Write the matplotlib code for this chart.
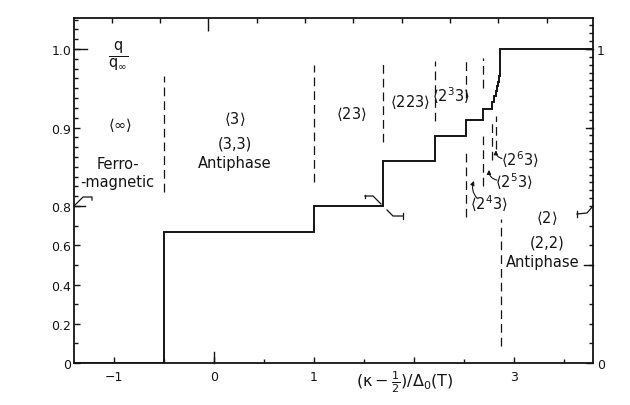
import numpy as np
import matplotlib
matplotlib.use('Agg')
import matplotlib.pyplot as plt
from matplotlib.transforms import IdentityTransform

plt.rcParams['font.family'] = ['DejaVu Sans']
plt.rcParams['mathtext.default'] = 'regular'
INK = '#141414'

# ---- data ----
step_x = [-1.40, -0.50, 1.00, 1.69, 2.21, 2.52, 2.69, 2.78, 2.80, 2.82, 2.832, 2.842, 2.850, 2.858, 3.79]
step_q = [0.000, 0.667, 0.800, 0.857, 0.889, 0.909, 0.923, 0.933, 0.940, 0.947, 0.953, 0.958, 0.965, 1.000, 1.000]

dash_x  = [-0.50, 1.00, 1.69, 2.21, 2.52, 2.69, 2.52, 2.69, 2.78, 2.82, 2.87]
dash_lo = [0.818, 0.831, 0.882, 0.908, 0.937, 0.950, 0.746, 0.826, 0.858, 0.873, 0.089]
dash_hi = [0.966, 0.979, 0.984, 0.985, 0.985, 0.988, 0.873, 0.889, 0.908, 0.915, 0.736]

x_ticks = [-1, 0, 1, 2, 3]
x_ticklabels = ['\u22121', '0', '1', '', '3']
y_ticks = [0, 0.2, 0.4, 0.6, 0.8, 0.9, 1.0]
y_ticklabels = ['0', '0.2', '0.4', '0.6', '0.8', '0.9', '1.0']

# ---- broken (piecewise linear) q scale ----
def fwd(q):
    q = np.asarray(q, float)
    return np.where(q <= 0.8, q / 4.0, q - 0.6)

def inv(y):
    y = np.asarray(y, float)
    return np.where(y <= 0.2, y * 4.0, y + 0.6)

fig = plt.figure(figsize=(6.3, 4.06), dpi=100)
ax = fig.add_axes([74/630, 1-364/406, 519/630, 345/406])
ax.set_yscale('function', functions=(fwd, inv))
XL = (-1.40, 3.79)
YL = (0.0, 1.0395)
ax.set_xlim(*XL)
ax.set_ylim(*YL)
for s in ax.spines.values():
    s.set_linewidth(1.3)
    s.set_color(INK)

ax.set_xticks(x_ticks, labels=x_ticklabels)
ax.set_xticks([-0.5, 0.5, 1.5, 2.5, 3.5], minor=True)
ax.set_yticks(y_ticks, labels=y_ticklabels)
upper_minor = [v for v in np.arange(0.8125, 1.04, 0.0125) if abs(v-0.9) > 1e-6 and abs(v-1.0) > 1e-6]
ax.set_yticks([0.1, 0.3, 0.5, 0.7] + upper_minor, minor=True)
ax.yaxis.set_minor_formatter(matplotlib.ticker.NullFormatter())
ax.tick_params(which='major', direction='in', length=4.3, width=1.0, labelsize=9,
               colors=INK, pad=3)
ax.tick_params(which='minor', direction='in', length=2.6, width=1.0, colors=INK)
ax.tick_params(axis='y', pad=2)
ax.tick_params(axis='x', pad=5)

# right axis
ax2 = ax.twinx()
ax2.set_yscale('function', functions=(fwd, inv))
ax2.set_ylim(*YL)
for s in ax2.spines.values():
    s.set_visible(False)
ax2.set_yticks([0, 1.0], labels=['0', '1'])
rminor = [round(v, 3) for v in np.arange(0.1, 0.8001, 0.1)] + \
         [v for v in np.arange(0.81, 1.035, 0.01) if abs(v-1.0) > 1e-6]
ax2.set_yticks(rminor, minor=True)
ax2.yaxis.set_minor_formatter(matplotlib.ticker.NullFormatter())
ax2.tick_params(which='major', direction='in', length=5, width=1.0, labelsize=9, colors=INK, pad=3)
ax2.tick_params(which='minor', direction='in', length=2.6, width=1.0, colors=INK)

# top axis ticks
ax3 = ax.twiny()
ax3.set_xlim(*XL)
for s in ax3.spines.values():
    s.set_visible(False)
top_minor = [-1.02, -0.54, 0.43, 0.91, 1.39, 1.88, 2.36, 2.84, 3.33]
ax3.set_xticks([-0.06], labels=[''])
ax3.set_xticks(top_minor, minor=True)
ax3.xaxis.set_minor_formatter(matplotlib.ticker.NullFormatter())
ax3.tick_params(which='major', direction='in', length=9, width=1.0, colors=INK)
ax3.tick_params(which='minor', direction='in', length=3.5, width=1.0, colors=INK)

# extra long ticks
yt = ax.get_yaxis_transform()
xt = ax.get_xaxis_transform()
for q, L in [(0.8, 0.021), (1.0, 0.025)]:
    ax.plot([0, L], [q, q], transform=yt, color=INK, lw=1.0, clip_on=False)
for q, L in [(0.5, 0.018), (0.9, 0.014), (1.0, 0.014)]:
    ax.plot([1 - L, 1], [q, q], transform=yt, color=INK, lw=1.0, clip_on=False)
ax.plot([0, 0], [0, 0.032], transform=xt, color=INK, lw=1.0, clip_on=False)

# staircase
ax.step(step_x, step_q, where='post', color=INK, lw=1.4, solid_joinstyle='miter')

# phase boundaries
for x, lo, hi in zip(dash_x, dash_lo, dash_hi):
    ax.plot([x, x], [lo, hi], color=INK, lw=0.9, linestyle=(0, (7, 4)))

# labels
fs = 10.5
ax.text(-0.96, 0.992, r'$\frac{q}{q_{\infty}}$', fontsize=15, ha='center', va='center', color=INK)
ax.text(-0.94, 0.905, r'$\langle\infty\rangle$', fontsize=fs, ha='center', va='center', color=INK)
ax.text(-0.96, 0.8545, 'Ferro-', fontsize=fs, ha='center', va='center', color=INK)
ax.text(-0.97, 0.831, '-magnetic', fontsize=fs, ha='center', va='center', color=INK)
ax.text(0.21, 0.9115, r'$\langle3\rangle$', fontsize=fs, ha='center', va='center', color=INK)
ax.text(0.21, 0.880, '(3,3)', fontsize=fs, ha='center', va='center', color=INK)
ax.text(0.21, 0.8554, 'Antiphase', fontsize=fs, ha='center', va='center', color=INK)
ax.text(1.37, 0.919, r'$\langle23\rangle$', fontsize=fs, ha='center', va='center', color=INK)
ax.text(1.96, 0.934, r'$\langle223\rangle$', fontsize=fs, ha='center', va='center', color=INK)
ax.text(2.37, 0.942, r'$\langle2^{3}3\rangle$', fontsize=fs, ha='center', va='center', color=INK)
ax.text(2.745, 0.804, r'$\langle2^{4}3\rangle$', fontsize=fs, ha='center', va='center', color=INK)
ax.text(2.995, 0.832, r'$\langle2^{5}3\rangle$', fontsize=fs, ha='center', va='center', color=INK)
ax.text(3.06, 0.860, r'$\langle2^{6}3\rangle$', fontsize=fs, ha='center', va='center', color=INK)
ax.text(3.33, 0.746, r'$\langle2\rangle$', fontsize=fs, ha='center', va='center', color=INK)
ax.text(3.33, 0.619, '(2,2)', fontsize=fs, ha='center', va='center', color=INK)
ax.text(3.29, 0.515, 'Antiphase', fontsize=fs, ha='center', va='center', color=INK)
ax.text(0.638, -0.052, r'$(\kappa-\frac{1}{2})/\Delta_0(T)$', transform=ax.transAxes,
        fontsize=11.5, ha='center', va='center', color=INK)

# arrows
ap = dict(arrowstyle='-|>', lw=0.8, color=INK, mutation_scale=6, shrinkA=0, shrinkB=0)
ax.annotate('', xy=(2.60, 0.832), xytext=(2.63, 0.810),
            arrowprops=dict(ap, connectionstyle='arc3,rad=-0.3'))
ax.annotate('', xy=(2.75, 0.846), xytext=(2.83, 0.833),
            arrowprops=dict(ap, connectionstyle='arc3,rad=-0.4'))
ax.annotate('', xy=(2.82, 0.871), xytext=(2.88, 0.8605),
            arrowprops=dict(ap, connectionstyle='arc3,rad=-0.4'))

# axis-break marks (drawn in pixel offsets from anchor points)
def mark(anchor, pts):
    ox, oy = ax.transData.transform(anchor)
    xs = [ox + p[0] for p in pts]
    ys = [oy + p[1] for p in pts]
    ax.add_line(matplotlib.lines.Line2D(xs, ys, transform=IdentityTransform(),
                                        color=INK, lw=0.9, clip_on=False))

mark((XL[0], 0.8), [(0, 0), (9, 9), (18, 9), (18, 6)])
mark((XL[1], 0.8), [(0, 0), (-6, -7), (-16, -8)])
mark((XL[1], 0.8), [(-16, -5), (-16, -11)])
mark((1.69, 0.8), [(-18, 8), (-18, 11)])
mark((1.69, 0.8), [(-18, 10), (-10, 10), (-2, 2)])
mark((1.69, 0.8), [(4, -4), (10, -10), (20, -10)])
mark((1.69, 0.8), [(20, -7), (20, -13)])

fig.savefig('out.png', dpi=100, facecolor='white')
